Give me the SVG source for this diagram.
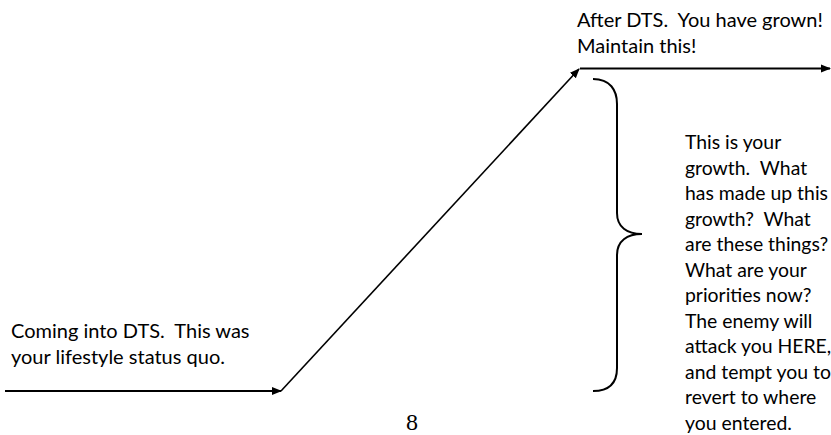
<svg xmlns="http://www.w3.org/2000/svg" width="831" height="435" viewBox="0 0 831 435">
  <style>
    .lbl { font-family: Lato, "Open Sans", "Liberation Sans", sans-serif; font-size: 20px; fill: #000; white-space: pre; }
    .side { font-size: 19.4px; }
    .pg { font-family: "Liberation Serif", serif; font-size: 24px; fill: #000; }
    .conn { stroke: #000; fill: none; }
    .brace { stroke: #000; stroke-width: 2; fill: none; }
  </style>
  <defs>
    <marker id="ah" viewBox="0 0 10 10" refX="9" refY="5" markerWidth="10" markerHeight="10" markerUnits="userSpaceOnUse" orient="auto">
      <path d="M0,1 L10,5 L0,9 Z" fill="#000"/>
    </marker>
  </defs>
  <rect width="831" height="435" fill="#fff"/>

  <g id="connectors">
    <line class="conn" x1="5" y1="391" x2="281" y2="391" stroke-width="2" marker-end="url(#ah)"/>
    <line class="conn" x1="281" y1="391" x2="579" y2="69" stroke-width="1.6" marker-end="url(#ah)"/>
    <line class="conn" x1="580" y1="68.5" x2="830" y2="68.5" stroke-width="2" marker-end="url(#ah)"/>
  </g>

  <g id="brace">
    <path class="brace" d="M593,79 C610,79 617,90 617,104 L617,213 C617,227 627,234 642,234 C627,234 617,241 617,255 L617,368 C617,382 610,391 593,391"/>
  </g>

  <g id="start-label">
    <text class="lbl" x="11" y="338" xml:space="preserve">Coming into DTS.  This was</text>
    <text class="lbl" x="11" y="364" xml:space="preserve">your lifestyle status quo.</text>
  </g>

  <g id="end-label">
    <text class="lbl" x="577" y="27" xml:space="preserve">After DTS.  You have grown!</text>
    <text class="lbl" x="577" y="53" xml:space="preserve">Maintain this!</text>
  </g>

  <g id="growth-label">
    <text class="lbl side" x="685" y="149" xml:space="preserve">This is your</text>
    <text class="lbl side" x="685" y="174.5" xml:space="preserve">growth.  What</text>
    <text class="lbl side" x="685" y="200" xml:space="preserve">has made up this</text>
    <text class="lbl side" x="685" y="225.5" xml:space="preserve">growth?  What</text>
    <text class="lbl side" x="685" y="251" xml:space="preserve">are these things?</text>
    <text class="lbl side" x="685" y="276.5" xml:space="preserve">What are your</text>
    <text class="lbl side" x="685" y="302" xml:space="preserve">priorities now?</text>
    <text class="lbl side" x="685" y="327.5" xml:space="preserve">The enemy will</text>
    <text class="lbl side" x="685" y="353" xml:space="preserve">attack you HERE,</text>
    <text class="lbl side" x="685" y="378.5" xml:space="preserve">and tempt you to</text>
    <text class="lbl side" x="685" y="404" xml:space="preserve">revert to where</text>
    <text class="lbl side" x="685" y="429.5" xml:space="preserve">you entered.</text>
  </g>

  <g id="page-number">
    <text class="pg" x="412" y="430" text-anchor="middle">8</text>
  </g>
</svg>
